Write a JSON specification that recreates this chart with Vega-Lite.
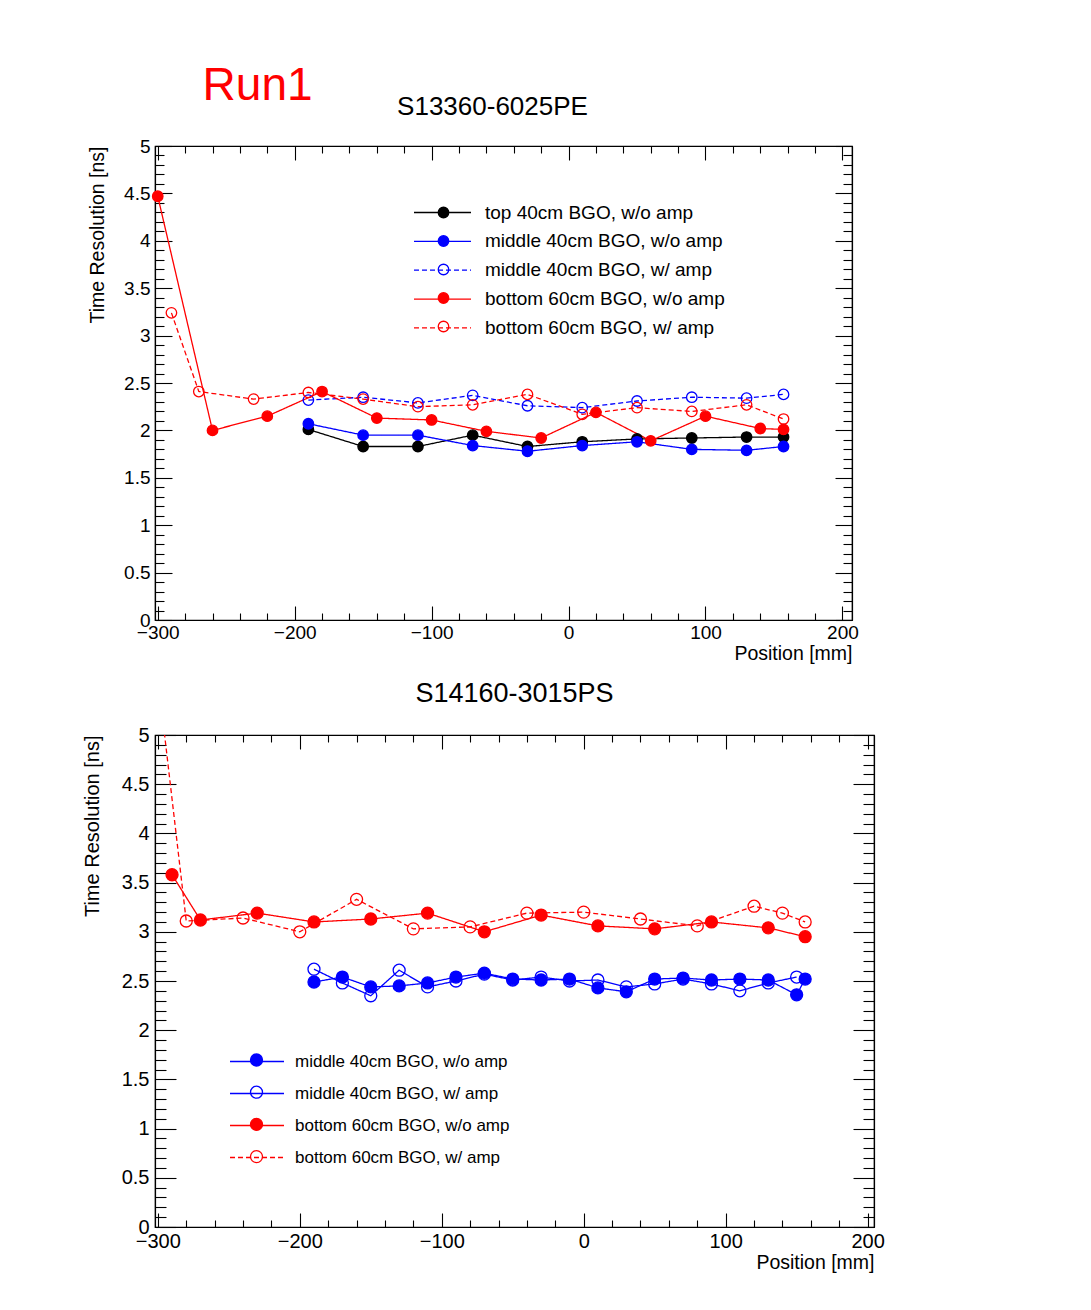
{
  "$schema": "https://vega.github.io/schema/vega-lite/v6.json",
  "background": "white",
  "padding": {"left": 81, "top": 63, "right": 5, "bottom": 5},
  "title": {"text": "Run1", "anchor": "start", "color": "#ff0000", "fontSize": 46, "font": "Liberation Sans", "fontWeight": "normal", "dx": 121, "offset": -17},
  "datasets": {
    "top": [
      {"series": "top 40cm BGO, w/o amp", "position": -190, "resolution": 2.01},
      {"series": "top 40cm BGO, w/o amp", "position": -150, "resolution": 1.83},
      {"series": "top 40cm BGO, w/o amp", "position": -110, "resolution": 1.83},
      {"series": "top 40cm BGO, w/o amp", "position": -70, "resolution": 1.95},
      {"series": "top 40cm BGO, w/o amp", "position": -30, "resolution": 1.83},
      {"series": "top 40cm BGO, w/o amp", "position": 10, "resolution": 1.88},
      {"series": "top 40cm BGO, w/o amp", "position": 50, "resolution": 1.91},
      {"series": "top 40cm BGO, w/o amp", "position": 90, "resolution": 1.92},
      {"series": "top 40cm BGO, w/o amp", "position": 130, "resolution": 1.93},
      {"series": "top 40cm BGO, w/o amp", "position": 157, "resolution": 1.93},
      {"series": "middle 40cm BGO, w/o amp", "position": -190, "resolution": 2.07},
      {"series": "middle 40cm BGO, w/o amp", "position": -150, "resolution": 1.95},
      {"series": "middle 40cm BGO, w/o amp", "position": -110, "resolution": 1.95},
      {"series": "middle 40cm BGO, w/o amp", "position": -70, "resolution": 1.84},
      {"series": "middle 40cm BGO, w/o amp", "position": -30, "resolution": 1.78},
      {"series": "middle 40cm BGO, w/o amp", "position": 10, "resolution": 1.84},
      {"series": "middle 40cm BGO, w/o amp", "position": 50, "resolution": 1.88},
      {"series": "middle 40cm BGO, w/o amp", "position": 90, "resolution": 1.80},
      {"series": "middle 40cm BGO, w/o amp", "position": 130, "resolution": 1.79},
      {"series": "middle 40cm BGO, w/o amp", "position": 157, "resolution": 1.83},
      {"series": "middle 40cm BGO, w/ amp", "position": -190, "resolution": 2.32},
      {"series": "middle 40cm BGO, w/ amp", "position": -150, "resolution": 2.35},
      {"series": "middle 40cm BGO, w/ amp", "position": -110, "resolution": 2.29},
      {"series": "middle 40cm BGO, w/ amp", "position": -70, "resolution": 2.37},
      {"series": "middle 40cm BGO, w/ amp", "position": -30, "resolution": 2.26},
      {"series": "middle 40cm BGO, w/ amp", "position": 10, "resolution": 2.24},
      {"series": "middle 40cm BGO, w/ amp", "position": 50, "resolution": 2.31},
      {"series": "middle 40cm BGO, w/ amp", "position": 90, "resolution": 2.35},
      {"series": "middle 40cm BGO, w/ amp", "position": 130, "resolution": 2.34},
      {"series": "middle 40cm BGO, w/ amp", "position": 157, "resolution": 2.38},
      {"series": "bottom 60cm BGO, w/o amp", "position": -300, "resolution": 4.47},
      {"series": "bottom 60cm BGO, w/o amp", "position": -260, "resolution": 2.00},
      {"series": "bottom 60cm BGO, w/o amp", "position": -220, "resolution": 2.15},
      {"series": "bottom 60cm BGO, w/o amp", "position": -180, "resolution": 2.41},
      {"series": "bottom 60cm BGO, w/o amp", "position": -140, "resolution": 2.13},
      {"series": "bottom 60cm BGO, w/o amp", "position": -100, "resolution": 2.11},
      {"series": "bottom 60cm BGO, w/o amp", "position": -60, "resolution": 1.99},
      {"series": "bottom 60cm BGO, w/o amp", "position": -20, "resolution": 1.92},
      {"series": "bottom 60cm BGO, w/o amp", "position": 20, "resolution": 2.19},
      {"series": "bottom 60cm BGO, w/o amp", "position": 60, "resolution": 1.89},
      {"series": "bottom 60cm BGO, w/o amp", "position": 100, "resolution": 2.15},
      {"series": "bottom 60cm BGO, w/o amp", "position": 140, "resolution": 2.02},
      {"series": "bottom 60cm BGO, w/o amp", "position": 157, "resolution": 2.01},
      {"series": "bottom 60cm BGO, w/ amp", "position": -290, "resolution": 3.24},
      {"series": "bottom 60cm BGO, w/ amp", "position": -270, "resolution": 2.41},
      {"series": "bottom 60cm BGO, w/ amp", "position": -230, "resolution": 2.33},
      {"series": "bottom 60cm BGO, w/ amp", "position": -190, "resolution": 2.40},
      {"series": "bottom 60cm BGO, w/ amp", "position": -150, "resolution": 2.33},
      {"series": "bottom 60cm BGO, w/ amp", "position": -110, "resolution": 2.25},
      {"series": "bottom 60cm BGO, w/ amp", "position": -70, "resolution": 2.27},
      {"series": "bottom 60cm BGO, w/ amp", "position": -30, "resolution": 2.38},
      {"series": "bottom 60cm BGO, w/ amp", "position": 10, "resolution": 2.17},
      {"series": "bottom 60cm BGO, w/ amp", "position": 50, "resolution": 2.24},
      {"series": "bottom 60cm BGO, w/ amp", "position": 90, "resolution": 2.20},
      {"series": "bottom 60cm BGO, w/ amp", "position": 130, "resolution": 2.27},
      {"series": "bottom 60cm BGO, w/ amp", "position": 157, "resolution": 2.12}
    ],
    "bottom": [
      {"series": "middle 40cm BGO, w/o amp", "position": -190, "resolution": 2.49},
      {"series": "middle 40cm BGO, w/o amp", "position": -170, "resolution": 2.54},
      {"series": "middle 40cm BGO, w/o amp", "position": -150, "resolution": 2.44},
      {"series": "middle 40cm BGO, w/o amp", "position": -130, "resolution": 2.45},
      {"series": "middle 40cm BGO, w/o amp", "position": -110, "resolution": 2.48},
      {"series": "middle 40cm BGO, w/o amp", "position": -90, "resolution": 2.54},
      {"series": "middle 40cm BGO, w/o amp", "position": -70, "resolution": 2.58},
      {"series": "middle 40cm BGO, w/o amp", "position": -50, "resolution": 2.52},
      {"series": "middle 40cm BGO, w/o amp", "position": -30, "resolution": 2.51},
      {"series": "middle 40cm BGO, w/o amp", "position": -10, "resolution": 2.52},
      {"series": "middle 40cm BGO, w/o amp", "position": 10, "resolution": 2.43},
      {"series": "middle 40cm BGO, w/o amp", "position": 30, "resolution": 2.39},
      {"series": "middle 40cm BGO, w/o amp", "position": 50, "resolution": 2.52},
      {"series": "middle 40cm BGO, w/o amp", "position": 70, "resolution": 2.53},
      {"series": "middle 40cm BGO, w/o amp", "position": 90, "resolution": 2.51},
      {"series": "middle 40cm BGO, w/o amp", "position": 110, "resolution": 2.52},
      {"series": "middle 40cm BGO, w/o amp", "position": 130, "resolution": 2.51},
      {"series": "middle 40cm BGO, w/o amp", "position": 150, "resolution": 2.36},
      {"series": "middle 40cm BGO, w/o amp", "position": 156, "resolution": 2.52},
      {"series": "middle 40cm BGO, w/ amp", "position": -190, "resolution": 2.62},
      {"series": "middle 40cm BGO, w/ amp", "position": -170, "resolution": 2.48},
      {"series": "middle 40cm BGO, w/ amp", "position": -150, "resolution": 2.35},
      {"series": "middle 40cm BGO, w/ amp", "position": -130, "resolution": 2.61},
      {"series": "middle 40cm BGO, w/ amp", "position": -110, "resolution": 2.44},
      {"series": "middle 40cm BGO, w/ amp", "position": -90, "resolution": 2.50},
      {"series": "middle 40cm BGO, w/ amp", "position": -70, "resolution": 2.57},
      {"series": "middle 40cm BGO, w/ amp", "position": -50, "resolution": 2.51},
      {"series": "middle 40cm BGO, w/ amp", "position": -30, "resolution": 2.54},
      {"series": "middle 40cm BGO, w/ amp", "position": -10, "resolution": 2.50},
      {"series": "middle 40cm BGO, w/ amp", "position": 10, "resolution": 2.51},
      {"series": "middle 40cm BGO, w/ amp", "position": 30, "resolution": 2.44},
      {"series": "middle 40cm BGO, w/ amp", "position": 50, "resolution": 2.47},
      {"series": "middle 40cm BGO, w/ amp", "position": 70, "resolution": 2.52},
      {"series": "middle 40cm BGO, w/ amp", "position": 90, "resolution": 2.47},
      {"series": "middle 40cm BGO, w/ amp", "position": 110, "resolution": 2.40},
      {"series": "middle 40cm BGO, w/ amp", "position": 130, "resolution": 2.48},
      {"series": "middle 40cm BGO, w/ amp", "position": 150, "resolution": 2.54},
      {"series": "bottom 60cm BGO, w/o amp", "position": -290, "resolution": 3.58},
      {"series": "bottom 60cm BGO, w/o amp", "position": -270, "resolution": 3.12},
      {"series": "bottom 60cm BGO, w/o amp", "position": -230, "resolution": 3.19},
      {"series": "bottom 60cm BGO, w/o amp", "position": -190, "resolution": 3.10},
      {"series": "bottom 60cm BGO, w/o amp", "position": -150, "resolution": 3.13},
      {"series": "bottom 60cm BGO, w/o amp", "position": -110, "resolution": 3.19},
      {"series": "bottom 60cm BGO, w/o amp", "position": -70, "resolution": 3.00},
      {"series": "bottom 60cm BGO, w/o amp", "position": -30, "resolution": 3.17},
      {"series": "bottom 60cm BGO, w/o amp", "position": 10, "resolution": 3.06},
      {"series": "bottom 60cm BGO, w/o amp", "position": 50, "resolution": 3.03},
      {"series": "bottom 60cm BGO, w/o amp", "position": 90, "resolution": 3.10},
      {"series": "bottom 60cm BGO, w/o amp", "position": 130, "resolution": 3.04},
      {"series": "bottom 60cm BGO, w/o amp", "position": 156, "resolution": 2.95},
      {"series": "bottom 60cm BGO, w/ amp", "position": -300, "resolution": 5.59},
      {"series": "bottom 60cm BGO, w/ amp", "position": -280, "resolution": 3.11},
      {"series": "bottom 60cm BGO, w/ amp", "position": -240, "resolution": 3.14},
      {"series": "bottom 60cm BGO, w/ amp", "position": -200, "resolution": 3.00},
      {"series": "bottom 60cm BGO, w/ amp", "position": -160, "resolution": 3.33},
      {"series": "bottom 60cm BGO, w/ amp", "position": -120, "resolution": 3.03},
      {"series": "bottom 60cm BGO, w/ amp", "position": -80, "resolution": 3.05},
      {"series": "bottom 60cm BGO, w/ amp", "position": -40, "resolution": 3.19},
      {"series": "bottom 60cm BGO, w/ amp", "position": 0, "resolution": 3.20},
      {"series": "bottom 60cm BGO, w/ amp", "position": 40, "resolution": 3.13},
      {"series": "bottom 60cm BGO, w/ amp", "position": 80, "resolution": 3.06},
      {"series": "bottom 60cm BGO, w/ amp", "position": 120, "resolution": 3.26},
      {"series": "bottom 60cm BGO, w/ amp", "position": 140, "resolution": 3.19},
      {"series": "bottom 60cm BGO, w/ amp", "position": 156, "resolution": 3.10}
    ]
  },
  "vconcat": [
    {
      "width": 697,
      "height": 474,
      "title": {"text": "S13360-6025PE", "fontSize": 26, "font": "Liberation Sans", "fontWeight": "normal", "color": "black", "anchor": "middle", "dx": -11, "offset": -4, "baseline": "alphabetic"},
      "data": {"name": "top"},
      "resolve": {"axis": {"x": "independent", "y": "independent"}},
      "layer": [
        {
          "mark": {"type": "line", "strokeWidth": 1.3},
          "encoding": {
            "x": {"field": "position", "type": "quantitative", "scale": {"domain": [-302, 207], "nice": false, "zero": false},
              "axis": {"orient": "bottom", "values": [-300,-280,-260,-240,-220,-200,-180,-160,-140,-120,-100,-80,-60,-40,-20,0,20,40,60,80,100,120,140,160,180,200],
                "tickSize": {"condition": {"test": "datum.value % 100 == 0", "value": -14}, "value": -7},
                "labelExpr": "datum.value % 100 == 0 ? replace(format(datum.value, 'd'), '-', '\u2212') : ''",
                "labelFontSize": 19, "labelPadding": 17, "labelOverlap": false, "labelFlush": false,
                "title": "Position [mm]", "titleAnchor": "end", "titleFontSize": 19.5, "titlePadding": -5}},
            "y": {"field": "resolution", "type": "quantitative", "scale": {"domain": [0, 5], "nice": false, "zero": false},
              "axis": {"orient": "left", "values": [0,0.1,0.2,0.3,0.4,0.5,0.6,0.7,0.8,0.9,1,1.1,1.2,1.3,1.4,1.5,1.6,1.7,1.8,1.9,2,2.1,2.2,2.3,2.4,2.5,2.6,2.7,2.8,2.9,3,3.1,3.2,3.3,3.4,3.5,3.6,3.7,3.8,3.9,4,4.1,4.2,4.3,4.4,4.5,4.6,4.7,4.8,4.9,5],
                "tickSize": {"condition": {"test": "abs(datum.value*2 - round(datum.value*2)) < 0.01", "value": -17}, "value": -9},
                "labelExpr": "abs(datum.value*2 - round(datum.value*2)) < 0.01 ? format(datum.value, '~g') : ''",
                "labelFontSize": 19, "labelPadding": 22, "labelOverlap": false, "labelFlush": false,
                "title": "Time Resolution [ns]", "titleAnchor": "end", "titleFontSize": 19.5, "titlePadding": 16}},
            "stroke": {"field": "series", "type": "nominal",
              "scale": {"domain": ["top 40cm BGO, w/o amp", "middle 40cm BGO, w/o amp", "middle 40cm BGO, w/ amp", "bottom 60cm BGO, w/o amp", "bottom 60cm BGO, w/ amp"], "range": ["#000000", "#0000ff", "#0000ff", "#ff0000", "#ff0000"]},
              "legend": {"orient": "none", "legendX": 277, "legendY": 56, "title": null, "symbolType": "M-3,0H3", "symbolSize": 361, "symbolStrokeWidth": 1.3, "labelFontSize": 19, "labelOffset": 32, "rowPadding": 7.85, "padding": 0, "labelLimit": 400}},
            "strokeDash": {"field": "series", "type": "nominal",
              "scale": {"domain": ["top 40cm BGO, w/o amp", "middle 40cm BGO, w/o amp", "middle 40cm BGO, w/ amp", "bottom 60cm BGO, w/o amp", "bottom 60cm BGO, w/ amp"], "range": [[1, 0], [1, 0], [5, 3], [1, 0], [5, 3]]},
              "legend": {"orient": "none", "legendX": 277, "legendY": 56, "title": null, "symbolType": "M-3,0H3", "symbolSize": 361, "symbolStrokeWidth": 1.3, "labelFontSize": 19, "labelOffset": 32, "rowPadding": 7.85, "padding": 0, "labelLimit": 400}}
          }
        },
        {
          "mark": {"type": "point", "shape": "circle", "size": 110, "strokeWidth": 1.3, "opacity": 1, "filled": false},
          "encoding": {
            "x": {"field": "position", "type": "quantitative",
              "axis": {"orient": "top", "values": [-300,-280,-260,-240,-220,-200,-180,-160,-140,-120,-100,-80,-60,-40,-20,0,20,40,60,80,100,120,140,160,180,200],
                "tickSize": {"condition": {"test": "datum.value % 100 == 0", "value": -14}, "value": -7},
                "labels": false, "title": null}},
            "y": {"field": "resolution", "type": "quantitative",
              "axis": {"orient": "right", "values": [0,0.1,0.2,0.3,0.4,0.5,0.6,0.7,0.8,0.9,1,1.1,1.2,1.3,1.4,1.5,1.6,1.7,1.8,1.9,2,2.1,2.2,2.3,2.4,2.5,2.6,2.7,2.8,2.9,3,3.1,3.2,3.3,3.4,3.5,3.6,3.7,3.8,3.9,4,4.1,4.2,4.3,4.4,4.5,4.6,4.7,4.8,4.9,5],
                "tickSize": {"condition": {"test": "abs(datum.value*2 - round(datum.value*2)) < 0.01", "value": -17}, "value": -9},
                "labels": false, "title": null}},
            "color": {"field": "series", "type": "nominal",
              "scale": {"domain": ["bottom 60cm BGO, w/ amp", "bottom 60cm BGO, w/o amp", "middle 40cm BGO, w/ amp", "middle 40cm BGO, w/o amp", "top 40cm BGO, w/o amp"], "range": ["#ff0000", "#ff0000", "#0000ff", "#0000ff", "#000000"]},
              "legend": {"orient": "none", "legendX": 279, "legendY": 57, "title": null, "values": ["top 40cm BGO, w/o amp", "middle 40cm BGO, w/o amp", "middle 40cm BGO, w/ amp", "bottom 60cm BGO, w/o amp", "bottom 60cm BGO, w/ amp"], "symbolType": "circle", "symbolSize": 110, "symbolStrokeWidth": 1.3, "labelExpr": "''", "labelFontSize": 19, "labelOffset": 0, "rowPadding": 8.5, "padding": 0, "labelLimit": 400}},
            "fill": {"field": "series", "type": "nominal",
              "scale": {"domain": ["bottom 60cm BGO, w/ amp", "bottom 60cm BGO, w/o amp", "middle 40cm BGO, w/ amp", "middle 40cm BGO, w/o amp", "top 40cm BGO, w/o amp"], "range": ["transparent", "#ff0000", "transparent", "#0000ff", "#000000"]},
              "legend": {"orient": "none", "legendX": 279, "legendY": 57, "title": null, "values": ["top 40cm BGO, w/o amp", "middle 40cm BGO, w/o amp", "middle 40cm BGO, w/ amp", "bottom 60cm BGO, w/o amp", "bottom 60cm BGO, w/ amp"], "symbolType": "circle", "symbolSize": 110, "symbolStrokeWidth": 1.3, "labelExpr": "''", "labelFontSize": 19, "labelOffset": 0, "rowPadding": 8.5, "padding": 0, "labelLimit": 400}}
          }
        }
      ]
    },
    {
      "width": 719,
      "height": 492,
      "title": {"text": "S14160-3015PS", "fontSize": 27, "font": "Liberation Sans", "fontWeight": "normal", "color": "black", "anchor": "middle", "dx": 0, "offset": -4, "baseline": "alphabetic"},
      "data": {"name": "bottom"},
      "resolve": {"axis": {"x": "independent", "y": "independent"}},
      "layer": [
        {
          "mark": {"type": "line", "strokeWidth": 1.3, "clip": true},
          "encoding": {
            "x": {"field": "position", "type": "quantitative", "scale": {"domain": [-302, 204.5], "nice": false, "zero": false},
              "axis": {"orient": "bottom", "values": [-300,-280,-260,-240,-220,-200,-180,-160,-140,-120,-100,-80,-60,-40,-20,0,20,40,60,80,100,120,140,160,180,200],
                "tickSize": {"condition": {"test": "datum.value % 100 == 0", "value": -14}, "value": -7},
                "labelExpr": "datum.value % 100 == 0 ? replace(format(datum.value, 'd'), '-', '\u2212') : ''",
                "labelFontSize": 20, "labelPadding": 18, "labelOverlap": false, "labelFlush": false,
                "title": "Position [mm]", "titleAnchor": "end", "titleFontSize": 19.5, "titlePadding": -5}},
            "y": {"field": "resolution", "type": "quantitative", "scale": {"domain": [0, 5], "nice": false, "zero": false},
              "axis": {"orient": "left", "values": [0,0.1,0.2,0.3,0.4,0.5,0.6,0.7,0.8,0.9,1,1.1,1.2,1.3,1.4,1.5,1.6,1.7,1.8,1.9,2,2.1,2.2,2.3,2.4,2.5,2.6,2.7,2.8,2.9,3,3.1,3.2,3.3,3.4,3.5,3.6,3.7,3.8,3.9,4,4.1,4.2,4.3,4.4,4.5,4.6,4.7,4.8,4.9,5],
                "tickSize": {"condition": {"test": "abs(datum.value*2 - round(datum.value*2)) < 0.01", "value": -21}, "value": -11},
                "labelExpr": "abs(datum.value*2 - round(datum.value*2)) < 0.01 ? format(datum.value, '~g') : ''",
                "labelFontSize": 20, "labelPadding": 27, "labelOverlap": false, "labelFlush": false,
                "title": "Time Resolution [ns]", "titleAnchor": "end", "titleFontSize": 20, "titlePadding": 19}},
            "stroke": {"field": "series", "type": "nominal",
              "scale": {"domain": ["middle 40cm BGO, w/o amp", "middle 40cm BGO, w/ amp", "bottom 60cm BGO, w/o amp", "bottom 60cm BGO, w/ amp"], "range": ["#0000ff", "#0000ff", "#ff0000", "#ff0000"]},
              "legend": {"orient": "none", "legendX": 92, "legendY": 316.5, "title": null, "symbolType": "M-3,0H3", "symbolSize": 324, "symbolStrokeWidth": 1.3, "labelFontSize": 17, "labelOffset": 28, "rowPadding": 14, "padding": 0, "labelLimit": 400}},
            "strokeDash": {"field": "series", "type": "nominal",
              "scale": {"domain": ["middle 40cm BGO, w/o amp", "middle 40cm BGO, w/ amp", "bottom 60cm BGO, w/o amp", "bottom 60cm BGO, w/ amp"], "range": [[1, 0], [1, 0], [1, 0], [5, 3]]},
              "legend": {"orient": "none", "legendX": 92, "legendY": 316.5, "title": null, "symbolType": "M-3,0H3", "symbolSize": 324, "symbolStrokeWidth": 1.3, "labelFontSize": 17, "labelOffset": 28, "rowPadding": 14, "padding": 0, "labelLimit": 400}}
          }
        },
        {
          "mark": {"type": "point", "shape": "circle", "size": 144, "strokeWidth": 1.3, "opacity": 1, "filled": false, "clip": true},
          "encoding": {
            "x": {"field": "position", "type": "quantitative",
              "axis": {"orient": "top", "values": [-300,-280,-260,-240,-220,-200,-180,-160,-140,-120,-100,-80,-60,-40,-20,0,20,40,60,80,100,120,140,160,180,200],
                "tickSize": {"condition": {"test": "datum.value % 100 == 0", "value": -14}, "value": -7},
                "labels": false, "title": null}},
            "y": {"field": "resolution", "type": "quantitative",
              "axis": {"orient": "right", "values": [0,0.1,0.2,0.3,0.4,0.5,0.6,0.7,0.8,0.9,1,1.1,1.2,1.3,1.4,1.5,1.6,1.7,1.8,1.9,2,2.1,2.2,2.3,2.4,2.5,2.6,2.7,2.8,2.9,3,3.1,3.2,3.3,3.4,3.5,3.6,3.7,3.8,3.9,4,4.1,4.2,4.3,4.4,4.5,4.6,4.7,4.8,4.9,5],
                "tickSize": {"condition": {"test": "abs(datum.value*2 - round(datum.value*2)) < 0.01", "value": -21}, "value": -11},
                "labels": false, "title": null}},
            "color": {"field": "series", "type": "nominal",
              "scale": {"domain": ["bottom 60cm BGO, w/ amp", "bottom 60cm BGO, w/o amp", "middle 40cm BGO, w/ amp", "middle 40cm BGO, w/o amp"], "range": ["#ff0000", "#ff0000", "#0000ff", "#0000ff"]},
              "legend": {"orient": "none", "legendX": 93, "legendY": 316.5, "title": null, "values": ["middle 40cm BGO, w/o amp", "middle 40cm BGO, w/ amp", "bottom 60cm BGO, w/o amp", "bottom 60cm BGO, w/ amp"], "symbolType": "circle", "symbolSize": 144, "symbolStrokeWidth": 1.3, "labelExpr": "''", "labelFontSize": 17, "labelOffset": 0, "rowPadding": 13.2, "padding": 0, "labelLimit": 400}},
            "fill": {"field": "series", "type": "nominal",
              "scale": {"domain": ["bottom 60cm BGO, w/ amp", "bottom 60cm BGO, w/o amp", "middle 40cm BGO, w/ amp", "middle 40cm BGO, w/o amp"], "range": ["transparent", "#ff0000", "transparent", "#0000ff"]},
              "legend": {"orient": "none", "legendX": 93, "legendY": 316.5, "title": null, "values": ["middle 40cm BGO, w/o amp", "middle 40cm BGO, w/ amp", "bottom 60cm BGO, w/o amp", "bottom 60cm BGO, w/ amp"], "symbolType": "circle", "symbolSize": 144, "symbolStrokeWidth": 1.3, "labelExpr": "''", "labelFontSize": 17, "labelOffset": 0, "rowPadding": 13.2, "padding": 0, "labelLimit": 400}}
          }
        }
      ]
    }
  ],
  "spacing": 15,
  "resolve": {"scale": {"stroke": "independent", "strokeDash": "independent", "color": "independent", "fill": "independent"}, "legend": {"stroke": "independent", "strokeDash": "independent", "color": "independent", "fill": "independent"}},
  "config": {
    "font": "Liberation Sans",
    "view": {"stroke": "black", "strokeWidth": 1.2},
    "axis": {"domainColor": "black", "domainWidth": 1.2, "tickColor": "black", "tickWidth": 1.1, "labelColor": "black", "titleColor": "black", "grid": false, "labelFont": "Liberation Sans", "titleFont": "Liberation Sans", "titleFontWeight": "normal"},
    "legend": {"labelColor": "black", "labelFont": "Liberation Sans"}
  }
}
